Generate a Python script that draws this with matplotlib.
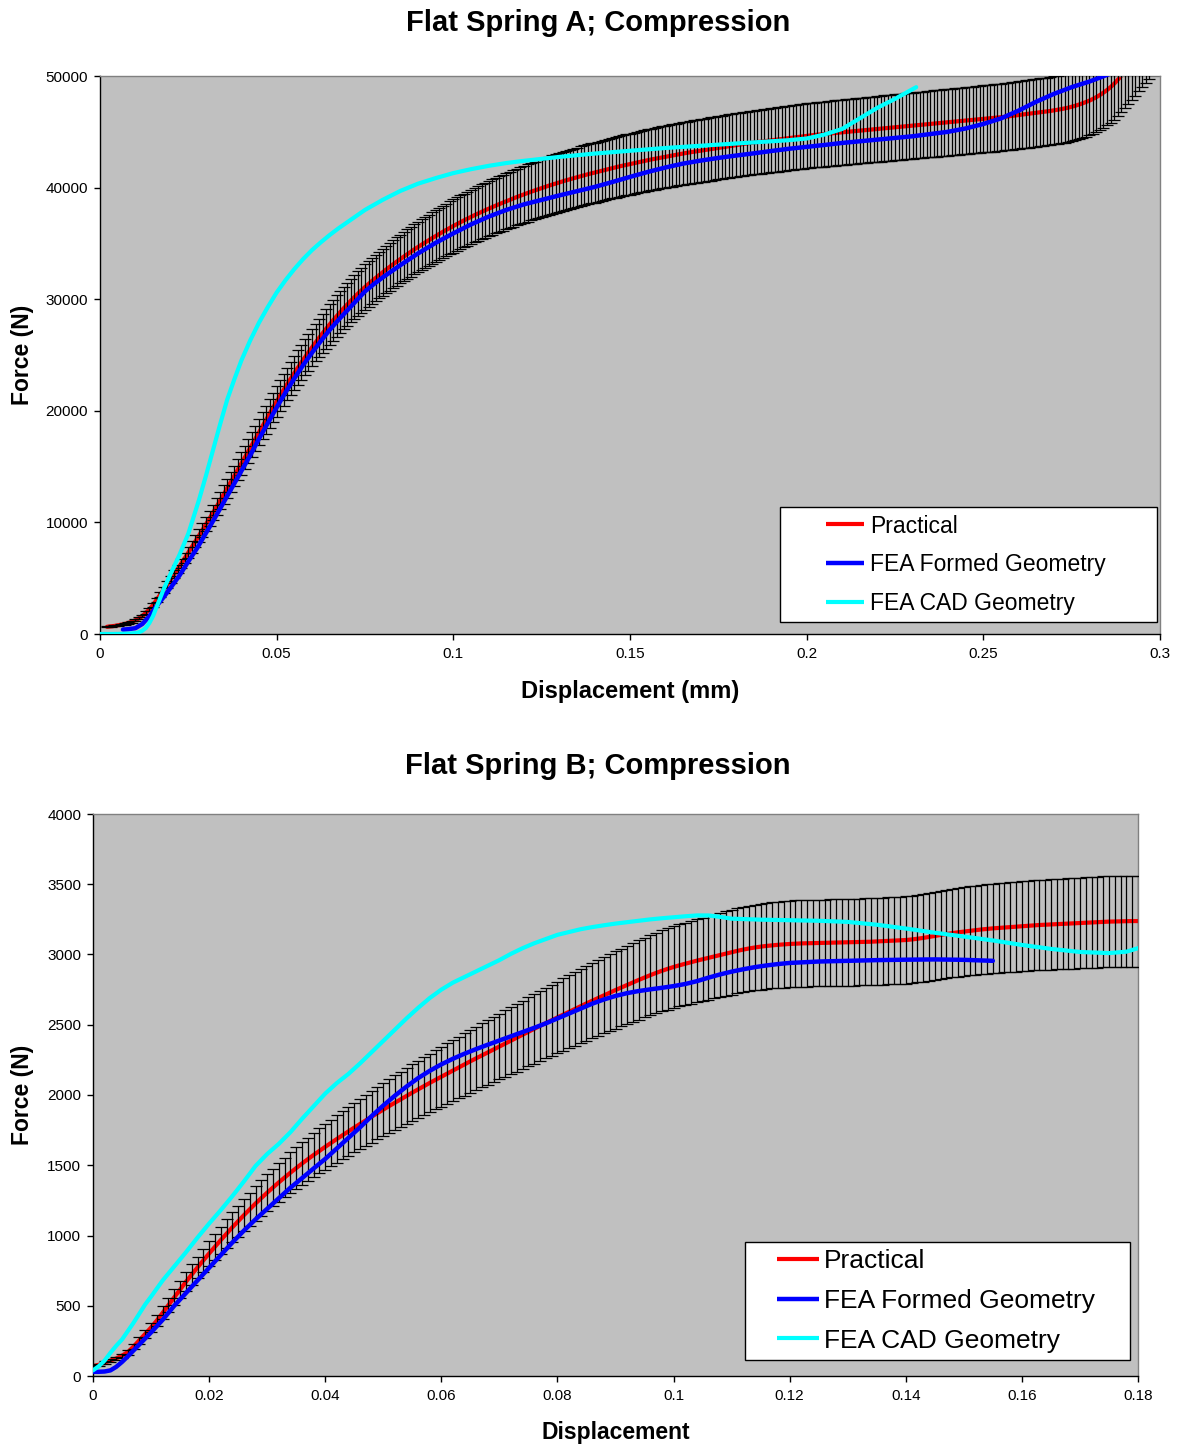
import matplotlib
matplotlib.use('Agg')
import matplotlib.pyplot as plt
import numpy as np
from matplotlib.lines import Line2D
from matplotlib.legend_handler import HandlerBase

plt.rcParams['font.family'] = ['Liberation Sans', 'DejaVu Sans']

# ---------------- Flat Spring A data ----------------
# Practical (measured) force, sampled every 0.001 mm starting at 0.002 mm
A_PRACT_START = 0.002
A_PRACT_STEP = 0.001
a_practical = [
    650, 680, 720, 770, 830, 900, 990, 1100, 1230, 1400, 1620, 1900, 2220, 2600, 3050, 3500, 3960, 4420,
    4900, 5360, 5830, 6310, 6800, 7300, 7800, 8300, 8810, 9320, 9830, 10350, 10880, 11410, 11950, 12500,
    13050, 13600, 14160, 14720, 15280, 15840, 16400, 16960, 17520, 18080, 18640, 19200, 19750, 20300,
    20840, 21370, 21890, 22400, 22900, 23390, 23870, 24340, 24800, 25250, 25690, 26120, 26540, 26950,
    27350, 27740, 28120,
    28490, 28850, 29200, 29540, 29870, 30190, 30500, 30800, 31090, 31370, 31640, 31900, 32160, 32410,
    32660, 32900, 33140, 33370, 33600, 33820, 34040, 34260, 34470, 34680, 34880, 35080, 35280, 35470,
    35660, 35850, 36030, 36210, 36390, 36560, 36730, 36900, 37060, 37220, 37380, 37530, 37680, 37830,
    37970, 38110, 38250, 38390, 38520, 38650, 38780, 38910, 39040, 39160,
    39280, 39400, 39520, 39630, 39740, 39850, 39960, 40070, 40170, 40270, 40370, 40470, 40570, 40660,
    40750, 40840, 40930, 41020, 41110,
    41190, 41270, 41350, 41430, 41510, 41590, 41670, 41750, 41830, 41900, 41970, 42040, 42110, 42180,
    42250, 42320, 42390, 42460, 42520,
    42580, 42640, 42700, 42760, 42820, 42880, 42940, 43000, 43060, 43110, 43160, 43210, 43260, 43310,
    43360, 43410, 43460, 43510, 43560,
    43610, 43660, 43710, 43760, 43810, 43860, 43910, 43960, 44000, 44040, 44080, 44120, 44160, 44200,
    44240, 44280, 44320, 44360, 44400,
    44440, 44480, 44520, 44560, 44600, 44640, 44680, 44710, 44740, 44770, 44800, 44830, 44860, 44890,
    44920, 44950, 44980, 45010, 45040, 45070, 45100, 45130, 45160, 45190, 45220, 45250, 45280, 45310,
    45340, 45370, 45400, 45430, 45460, 45490, 45520, 45550, 45580, 45610, 45640, 45670, 45700, 45730,
    45760, 45790, 45820, 45850, 45880, 45910, 45940, 45970, 46000, 46030, 46060, 46090, 46120, 46150,
    46180, 46210, 46240, 46270, 46300, 46340, 46380, 46420, 46460, 46500, 46540, 46580, 46620, 46660,
    46700, 46740, 46780, 46820, 46870, 46920, 46970, 47030, 47090, 47160, 47240, 47330, 47430, 47540,
    47660, 47790, 47940, 48110, 48300, 48510, 48740, 49000, 49300, 49640, 50010, 50400, 50800, 51200,
    51600, 52000, 52400, 52800, 53200, 53600,
]
A_ERR_FRACTION = 0.065  # percentage error bars on practical data

a_formed_x = [0.0065, 0.008, 0.010, 0.012, 0.014, 0.016, 0.018, 0.020, 0.0225, 0.025, 0.0275, 0.030,
              0.0325, 0.035, 0.0375, 0.040, 0.0425, 0.045, 0.0475, 0.050, 0.0525, 0.055, 0.0575, 0.060,
              0.0625, 0.065, 0.0675, 0.070, 0.0725, 0.075, 0.0775, 0.080, 0.085, 0.090, 0.095, 0.100,
              0.105, 0.110, 0.115, 0.120, 0.125, 0.130, 0.135, 0.140, 0.145, 0.150, 0.155, 0.160,
              0.165, 0.170, 0.175, 0.180, 0.185, 0.190, 0.195, 0.200, 0.205, 0.210, 0.215, 0.220,
              0.225, 0.230, 0.235, 0.240, 0.245, 0.250, 0.255, 0.260, 0.265, 0.270, 0.275, 0.280,
              0.285, 0.289]
a_formed_y = [400, 430, 520, 900, 1600, 2500, 3300, 4150, 5250, 6500, 7700, 9050,
              10400, 11800, 13200, 14600, 16000, 17500, 18900, 20300, 21650, 22900, 24100, 25200,
              26250, 27250, 28150, 29000, 29850, 30700, 31350, 31950, 33050, 34100, 35050, 35900,
              36700, 37400, 38000, 38500, 38900, 39300, 39680, 40060, 40500, 40960, 41400, 41800,
              42150, 42420, 42660, 42870, 43070, 43280, 43480, 43650, 43820, 44000, 44150, 44300,
              44450, 44600, 44800, 45000, 45300, 45700, 46200, 46900, 47700, 48400, 49000, 49500,
              50100, 50600]

a_cad_x = [0.000, 0.004, 0.008, 0.010, 0.011, 0.012, 0.013, 0.014, 0.015, 0.016, 0.018, 0.020,
           0.0225, 0.025, 0.028, 0.030, 0.032, 0.034, 0.036, 0.038, 0.040, 0.0425, 0.045, 0.0475,
           0.050, 0.0525, 0.055, 0.0575, 0.060, 0.0625, 0.065, 0.0675, 0.070, 0.075, 0.080, 0.085,
           0.090, 0.095, 0.100, 0.105, 0.110, 0.115, 0.120, 0.130, 0.140, 0.150, 0.160, 0.170,
           0.180, 0.190, 0.195, 0.200, 0.205, 0.210, 0.215, 0.220, 0.225, 0.231]
a_cad_y = [0, 0, 30, 80, 150, 300, 550, 1000, 1600, 2400, 4000, 5400,
           7100, 9000, 12000, 14200, 16500, 18800, 21000, 22800, 24500, 26300, 27900, 29300,
           30600, 31700, 32700, 33600, 34400, 35100, 35750, 36350, 36900, 38000, 38900, 39700,
           40350, 40850, 41300, 41650, 41950, 42200, 42400, 42750, 43050, 43300, 43550, 43750,
           43950, 44150, 44250, 44400, 44750, 45250, 46200, 47150, 47950, 49000]

# ---------------- Flat Spring B data ----------------
B_PRACT_START = 0.000
B_PRACT_STEP = 0.001
b_practical = [
    70, 80, 95, 110, 125, 145, 170, 210, 255, 300, 345, 395, 450, 505, 560, 615, 670, 722, 773, 823,
    872, 920, 967, 1013, 1058, 1102, 1145, 1187, 1228, 1267, 1305, 1342, 1378, 1413, 1447, 1480, 1512,
    1543, 1573, 1602, 1631, 1659, 1687, 1714, 1741, 1768, 1794, 1820, 1846, 1871, 1896, 1921, 1945,
    1969, 1993, 2017, 2040, 2063, 2086, 2108, 2130, 2152, 2174, 2196, 2218, 2240, 2261, 2282, 2303,
    2324, 2345, 2366, 2387, 2408, 2429, 2450, 2471, 2492, 2512, 2532, 2552, 2572, 2592, 2612, 2632,
    2652, 2671, 2690, 2709, 2728, 2747, 2765, 2783, 2801, 2819, 2836, 2853, 2869, 2884, 2898, 2911,
    2923, 2934, 2945, 2956, 2966, 2976, 2986, 2996, 3006, 3016, 3026, 3035, 3043, 3050, 3056, 3061,
    3065, 3069, 3072, 3075, 3077, 3079, 3080, 3081, 3082, 3083, 3084, 3085, 3086, 3087, 3088, 3089,
    3090, 3091, 3093, 3095, 3097, 3099, 3101, 3103, 3107, 3112, 3118, 3125, 3132, 3139, 3146, 3152,
    3158, 3163, 3168, 3173, 3178, 3182, 3186, 3189, 3192, 3195, 3198, 3201, 3204, 3207, 3210, 3212,
    3214, 3216, 3218, 3220, 3222, 3224, 3226, 3228, 3230, 3232, 3234, 3235, 3236, 3237, 3238, 3238,
]
B_ERR_FRACTION = 0.10

b_formed_x = [0.000, 0.001, 0.002, 0.003, 0.004, 0.005, 0.006, 0.008, 0.010, 0.012, 0.014, 0.016,
              0.018, 0.020, 0.022, 0.024, 0.026, 0.028, 0.030, 0.032, 0.034, 0.036, 0.038, 0.040,
              0.042, 0.044, 0.046, 0.048, 0.050, 0.052, 0.054, 0.056, 0.058, 0.060, 0.062, 0.064,
              0.066, 0.068, 0.070, 0.072, 0.074, 0.076, 0.078, 0.080, 0.082, 0.084, 0.086, 0.088,
              0.090, 0.092, 0.094, 0.096, 0.098, 0.100, 0.102, 0.104, 0.106, 0.108, 0.110, 0.112,
              0.114, 0.116, 0.118, 0.120, 0.125, 0.130, 0.135, 0.140, 0.145, 0.150, 0.155]
b_formed_y = [30, 30, 32, 40, 65, 100, 140, 225, 310, 400, 500, 590,
              680, 770, 860, 950, 1035, 1115, 1190, 1265, 1340, 1408, 1477, 1545,
              1620, 1695, 1770, 1850, 1925, 1995, 2060, 2120, 2172, 2218, 2258, 2294,
              2327, 2358, 2388, 2418, 2448, 2478, 2510, 2545, 2580, 2615, 2650, 2680,
              2705, 2725, 2740, 2752, 2763, 2775, 2790, 2810, 2835, 2858, 2878, 2895,
              2910, 2922, 2932, 2940, 2950, 2955, 2960, 2963, 2965, 2962, 2955]

b_cad_x = [0.000, 0.001, 0.002, 0.003, 0.004, 0.005, 0.006, 0.007, 0.008, 0.009, 0.010, 0.012,
           0.014, 0.016, 0.018, 0.020, 0.022, 0.024, 0.026, 0.027, 0.028, 0.030, 0.032, 0.034,
           0.036, 0.038, 0.040, 0.042, 0.044, 0.046, 0.048, 0.050, 0.052, 0.054, 0.056, 0.058,
           0.060, 0.062, 0.064, 0.066, 0.068, 0.070, 0.072, 0.074, 0.076, 0.078, 0.080, 0.082,
           0.084, 0.086, 0.088, 0.090, 0.092, 0.094, 0.096, 0.098, 0.100, 0.102, 0.104, 0.106,
           0.108, 0.110, 0.115, 0.120, 0.125, 0.130, 0.135, 0.140, 0.145, 0.150, 0.155, 0.160,
           0.165, 0.170, 0.175, 0.178, 0.180]
b_cad_y = [40, 70, 110, 165, 215, 260, 320, 380, 445, 510, 565, 680,
           780, 880, 985, 1085, 1180, 1280, 1385, 1440, 1495, 1580, 1652, 1735,
           1830, 1920, 2010, 2085, 2150, 2225, 2305, 2385, 2465, 2545, 2620, 2690,
           2750, 2800, 2840, 2880, 2920, 2960, 3005, 3045, 3080, 3110, 3140, 3160,
           3180, 3195, 3208, 3220, 3230, 3240, 3250, 3258, 3265, 3272, 3278, 3278,
           3268, 3255, 3248, 3244, 3240, 3232, 3212, 3185, 3155, 3128, 3100, 3068,
           3040, 3018, 3010, 3020, 3045]

# ---------------- text / ticks ----------------
series_labels = ['Practical', 'FEA Formed Geometry', 'FEA CAD Geometry']
title_a = 'Flat Spring A; Compression'
title_b = 'Flat Spring B; Compression'
xlabel_a = 'Displacement (mm)'
xlabel_b = 'Displacement'
ylabel = 'Force (N)'
a_xticks = [0, 0.05, 0.1, 0.15, 0.2, 0.25, 0.3]
a_xticklabels = ['0', '0.05', '0.1', '0.15', '0.2', '0.25', '0.3']
a_yticks = [0, 10000, 20000, 30000, 40000, 50000]
b_xticks = [0, 0.02, 0.04, 0.06, 0.08, 0.1, 0.12, 0.14, 0.16, 0.18]
b_xticklabels = ['0', '0.02', '0.04', '0.06', '0.08', '0.1', '0.12', '0.14', '0.16', '0.18']
b_yticks = [0, 500, 1000, 1500, 2000, 2500, 3000, 3500, 4000]

RED = '#FF0000'
BLUE = '#0000FF'
CYAN = '#00FFFF'


class RightLine(HandlerBase):
    """Legend handle: line drawn on the right part of the handle box."""
    def __init__(self, frac):
        super().__init__()
        self.frac = frac

    def create_artists(self, legend, orig_handle, xdescent, ydescent, width, height, fontsize, trans):
        y = height / 2.0 - ydescent
        x0 = -xdescent + width * self.frac
        x1 = -xdescent + width
        ln = Line2D([x0, x1], [y, y], color=orig_handle.get_color(),
                    linewidth=orig_handle.get_linewidth(), solid_capstyle='butt')
        ln.set_transform(trans)
        return [ln]


W, H = 1179, 1445
fig = plt.figure(figsize=(W / 100, H / 100), dpi=100)
fig.patch.set_facecolor('white')
axA = fig.add_axes([100 / W, 1 - 634 / H, 1060 / W, 558 / H])
axB = fig.add_axes([93 / W, 1 - 1376 / H, 1045 / W, 562 / H])


def style(ax):
    ax.set_facecolor('#C0C0C0')
    ax.spines['top'].set_color('#808080')
    ax.spines['right'].set_color('#808080')
    ax.spines['left'].set_color('black')
    ax.spines['bottom'].set_color('black')
    for s in ax.spines.values():
        s.set_linewidth(1.0)
    ax.tick_params(direction='out', length=4.5, width=1, labelsize=11, colors='black')
    ax.tick_params(axis='x', pad=5)
    ax.tick_params(axis='y', pad=4)


def draw(ax, px, py, err, fx, fy, cx, cy):
    l1, = ax.plot(px, py, color=RED, lw=3, zorder=2, solid_capstyle='round')
    ax.errorbar(px, py, yerr=py * err, fmt='none', ecolor='black', elinewidth=0.9,
                capsize=4, capthick=0.9, zorder=3)
    l2, = ax.plot(fx, fy, color=BLUE, lw=3.2, zorder=4, solid_capstyle='round')
    l3, = ax.plot(cx, cy, color=CYAN, lw=3, zorder=5, solid_capstyle='round')
    return [l1, l2, l3]


# ---- Chart A ----
style(axA)
yA = np.array(a_practical, dtype=float)
xA = A_PRACT_START + A_PRACT_STEP * np.arange(len(yA))
hA = draw(axA, xA, yA, A_ERR_FRACTION, a_formed_x, a_formed_y, a_cad_x, a_cad_y)
axA.set_xlim(0, 0.3)
axA.set_ylim(0, 50000)
axA.set_xticks(a_xticks)
axA.set_xticklabels(a_xticklabels)
axA.set_yticks(a_yticks)
axA.set_yticklabels([str(v) for v in a_yticks])
axA.set_xlabel(xlabel_a, fontsize=17, fontweight='bold')
axA.xaxis.set_label_coords(0.5, -57 / 558)
axA.xaxis.label.set_va('center')
axA.set_ylabel(ylabel, fontsize=16.5, fontweight='bold')
axA.yaxis.set_label_coords(-78 / 1060, 0.5)
axA.yaxis.label.set_va('center')
legA = axA.legend(hA, series_labels, loc='lower left',
                  bbox_to_anchor=(0.6415, 0.0215, 0.3555, 0.2115), mode='expand',
                  fontsize=16.5, handlelength=3.34, handletextpad=0.26, borderpad=0.32,
                  labelspacing=0.68, frameon=True, fancybox=False, framealpha=1,
                  edgecolor='black', borderaxespad=0,
                  handler_map={Line2D: RightLine(0.505)})
legA.get_frame().set_linewidth(1.0)
legA.set_zorder(10)

# ---- Chart B ----
style(axB)
yB = np.array(b_practical, dtype=float)
xB = B_PRACT_START + B_PRACT_STEP * np.arange(len(yB))
hB = draw(axB, xB, yB, B_ERR_FRACTION, b_formed_x, b_formed_y, b_cad_x, b_cad_y)
axB.set_xlim(0, 0.18)
axB.set_ylim(0, 4000)
axB.set_xticks(b_xticks)
axB.set_xticklabels(b_xticklabels)
axB.set_yticks(b_yticks)
axB.set_yticklabels([str(v) for v in b_yticks])
axB.set_xlabel(xlabel_b, fontsize=16.5, fontweight='bold')
axB.xaxis.set_label_coords(0.5, -56 / 562)
axB.xaxis.label.set_va('center')
axB.set_ylabel(ylabel, fontsize=16.5, fontweight='bold')
axB.yaxis.set_label_coords(-71 / 1045, 0.5)
axB.yaxis.label.set_va('center')
legB = axB.legend(hB, series_labels, loc='lower left',
                  bbox_to_anchor=(0.624, 0.0285, 0.368, 0.2171), mode='expand',
                  fontsize=19, handlelength=2.51, handletextpad=0.19, borderpad=0.28,
                  labelspacing=0.6, frameon=True, fancybox=False, framealpha=1,
                  edgecolor='black', borderaxespad=0,
                  handler_map={Line2D: RightLine(0.367)})
legB.get_frame().set_linewidth(1.0)
legB.set_zorder(10)

# ---- Titles ----
fig.text(598 / W, 1 - 23 / H, title_a, ha='center', va='center', fontsize=21, fontweight='bold')
fig.text(598 / W, 1 - 766 / H, title_b, ha='center', va='center', fontsize=21, fontweight='bold')

fig.savefig('out.png', dpi=100, facecolor='white')
